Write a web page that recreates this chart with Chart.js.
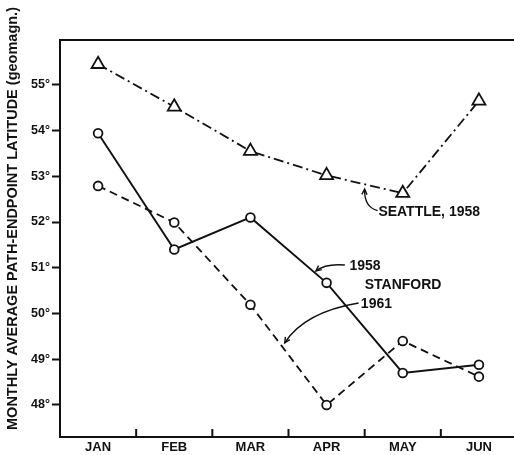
<!DOCTYPE html>
<html>
<head>
<meta charset="utf-8">
<script src="https://cdn.jsdelivr.net/npm/chart.js@4.4.1/dist/chart.umd.min.js"></script>
<style>
    html, body { margin: 0; padding: 0; background: #fff; overflow: hidden; }
    #wrap { width: 517px; height: 455px; }
</style>
</head>
<body>
<div id="wrap"><canvas id="latChart" width="517" height="455"></canvas></div>
<script>
// Chart data
const months = ['JAN', 'FEB', 'MAR', 'APR', 'MAY', 'JUN'];
const seattle1958 = [55.45, 54.52, 53.55, 53.02, 52.63, 54.65];
const stanford1958 = [53.94, 51.40, 52.10, 50.67, 48.70, 48.88];
const stanford1961 = [52.79, 51.99, 50.19, 48.00, 49.40, 48.62];
const yMin = 47.3;
const yMax = 55.98;

// Labels and arrows, placed in data space (x = month index, y = degrees)
const labelTexts = ['SEATTLE, 1958', '1958', 'STANFORD', '1961'];
const labelAnchors = [[3.68, 52.22], [3.30, 51.04], [3.50, 50.63], [3.45, 50.21]];
// each arrow: start, control, tip
const arrowPaths = [
    [[3.67, 52.25], [3.49, 52.33], [3.50, 52.72]],
    [[3.24, 51.06], [2.99, 51.10], [2.86, 50.93]],
    [[3.42, 50.23], [2.71, 50.03], [2.45, 49.36]]
];

const ink = '#111';
const fontFam = '"Liberation Sans", Arial, sans-serif';

// Frame, inward month ticks, y title and annotations
const decorPlugin = {
    id: 'decor',
    afterDraw(chart) {
        const ctx = chart.ctx;
        const area = chart.chartArea;
        const xs = chart.scales.x;
        const ys = chart.scales.y;
        ctx.save();
        ctx.strokeStyle = ink;
        ctx.fillStyle = ink;

        // top border
        ctx.lineWidth = 2;
        ctx.beginPath();
        ctx.moveTo(area.left, area.top);
        ctx.lineTo(area.right, area.top);
        ctx.stroke();

        // short ticks between months, pointing up into the plot
        ctx.lineWidth = 2;
        for (let i = 0; i < months.length - 1; i++) {
            const px = (xs.getPixelForValue(i) + xs.getPixelForValue(i + 1)) / 2;
            ctx.beginPath();
            ctx.moveTo(px, area.bottom);
            ctx.lineTo(px, area.bottom - 8);
            ctx.stroke();
        }

        // y axis title
        ctx.save();
        ctx.translate(area.left - 47, (area.top + area.bottom) / 2 - 20);
        ctx.rotate(-Math.PI / 2);
        ctx.font = 'bold 14.5px ' + fontFam;
        ctx.textAlign = 'center';
        ctx.textBaseline = 'middle';
        ctx.fillText('MONTHLY AVERAGE PATH-ENDPOINT LATITUDE (geomagn.)', 0, 0);
        ctx.restore();

        // annotation text
        ctx.font = 'bold 14px ' + fontFam;
        ctx.textAlign = 'left';
        ctx.textBaseline = 'middle';
        labelTexts.forEach((t, i) => {
            const a = labelAnchors[i];
            ctx.fillText(t, xs.getPixelForValue(a[0]), ys.getPixelForValue(a[1]));
        });

        // curved arrows
        ctx.lineWidth = 1.4;
        arrowPaths.forEach(path => {
            const p = path.map(q => [xs.getPixelForValue(q[0]), ys.getPixelForValue(q[1])]);
            ctx.beginPath();
            ctx.moveTo(p[0][0], p[0][1]);
            ctx.quadraticCurveTo(p[1][0], p[1][1], p[2][0], p[2][1]);
            ctx.stroke();
            const ang = Math.atan2(p[2][1] - p[1][1], p[2][0] - p[1][0]);
            const len = 6;
            ctx.beginPath();
            ctx.moveTo(p[2][0] - len * Math.cos(ang - 0.45), p[2][1] - len * Math.sin(ang - 0.45));
            ctx.lineTo(p[2][0], p[2][1]);
            ctx.lineTo(p[2][0] - len * Math.cos(ang + 0.45), p[2][1] - len * Math.sin(ang + 0.45));
            ctx.stroke();
        });
        ctx.restore();
    }
};

const ctx = document.getElementById('latChart').getContext('2d');
const latChart = new Chart(ctx, {
    type: 'line',
    data: {
        labels: months,
        datasets: [{
                label: 'Seattle, 1958',
                data: seattle1958,
                borderColor: ink,
                borderWidth: 1.8,
                borderDash: [10, 4, 2, 4],
                pointStyle: 'triangle',
                pointRadius: 7.5,
                pointBorderWidth: 1.8,
                pointBorderColor: ink,
                pointBackgroundColor: '#fff',
                tension: 0
            },
            {
                label: 'Stanford 1958',
                data: stanford1958,
                borderColor: ink,
                borderWidth: 1.9,
                pointStyle: 'circle',
                pointRadius: 4.4,
                pointBorderWidth: 1.8,
                pointBorderColor: ink,
                pointBackgroundColor: '#fff',
                tension: 0
            },
            {
                label: 'Stanford 1961',
                data: stanford1961,
                borderColor: ink,
                borderWidth: 1.8,
                borderDash: [8, 5],
                pointStyle: 'circle',
                pointRadius: 4.4,
                pointBorderWidth: 1.8,
                pointBorderColor: ink,
                pointBackgroundColor: '#fff',
                tension: 0
            }
        ]
    },
    options: {
        responsive: false,
        animation: false,
        layout: {
            autoPadding: false,
            padding: { top: 40, left: 0, right: 0, bottom: 0 }
        },
        scales: {
            x: {
                type: 'category',
                offset: true,
                afterFit: scale => { scale.height = 18; },
                grid: { display: false, drawTicks: false },
                border: { display: true, color: ink, width: 2 },
                ticks: {
                    color: ink,
                    padding: 3,
                    maxRotation: 0,
                    font: { family: fontFam, size: 13, weight: 'bold' }
                }
            },
            y: {
                min: yMin,
                max: yMax,
                afterFit: scale => { scale.width = 60; },
                grid: {
                    drawOnChartArea: false,
                    drawTicks: true,
                    tickLength: 8,
                    tickWidth: 2,
                    color: ink
                },
                border: { display: true, color: ink, width: 2 },
                ticks: {
                    stepSize: 1,
                    includeBounds: false,
                    color: ink,
                    padding: 2,
                    font: { family: fontFam, size: 12.5, weight: 'bold' },
                    callback: v => v + '°'
                }
            }
        },
        plugins: {
            legend: { display: false },
            tooltip: { enabled: false }
        }
    },
    plugins: [decorPlugin]
});
</script>
</body>
</html>
